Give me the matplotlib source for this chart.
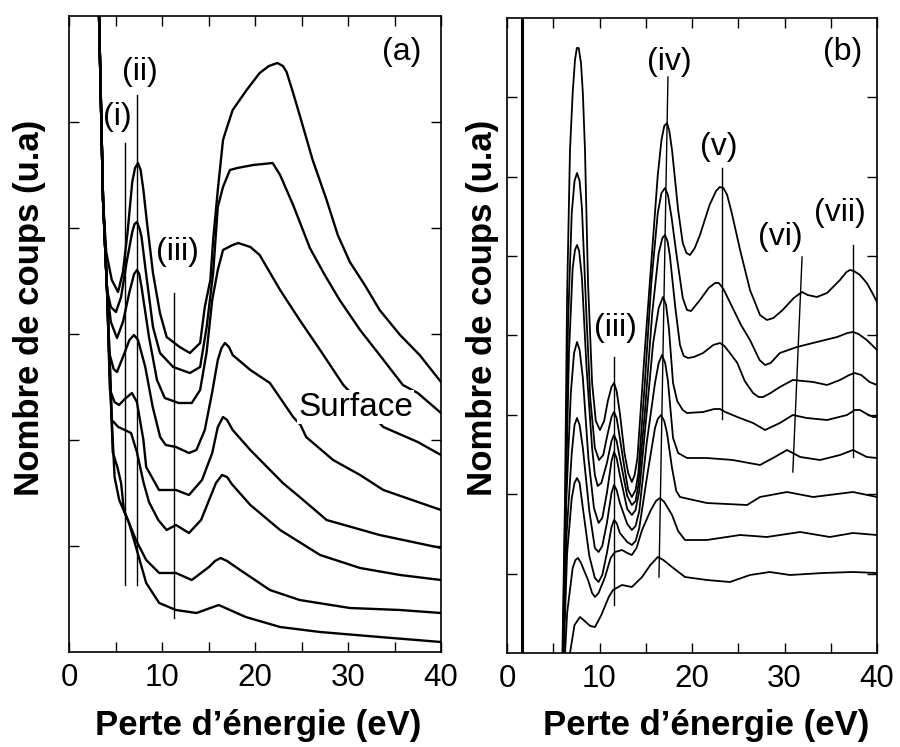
import numpy as np
import matplotlib
matplotlib.use('Agg')
import matplotlib.pyplot as plt

plt.rcParams['font.family'] = ['Liberation Sans', 'DejaVu Sans']

# ---- panel (a): spectra, (energy eV, counts u.a.), top curve first ----
a_curve1 = [(2.9, 720), (3.23, 636), (3.66, 452), (4.0, 400), (4.6, 372), (5.27, 360), (5.8, 380),
            (6.3, 420), (6.8, 470), (7.1, 484), (7.42, 489), (7.7, 482), (8.0, 462), (8.39, 429),
            (9.03, 379), (9.78, 339), (10.5, 315), (11.9, 305), (13.0, 299), (14.1, 309), (14.6, 345),
            (15.2, 372), (15.5, 412), (16.0, 462), (16.56, 512), (17.0, 525), (17.6, 542), (19.1, 562),
            (20.5, 579), (21.5, 586), (22.4, 589), (23.0, 586), (23.4, 580), (24.1, 559), (24.8, 537),
            (26.2, 492), (27.7, 452), (28.9, 417), (30.2, 390), (31.8, 367), (33.4, 342), (35.6, 317),
            (37.7, 297), (40.0, 270)]
a_curve2 = [(2.9, 720), (3.23, 636), (3.66, 452), (4.09, 362), (4.5, 345), (5.05, 340), (5.6, 355),
            (6.2, 390), (6.8, 420), (7.05, 428), (7.31, 430), (7.6, 423), (7.8, 415), (8.28, 379),
            (9.03, 325), (9.78, 299), (11.2, 285), (13.0, 279), (14.1, 285), (14.8, 325), (15.5, 379),
            (16.0, 445), (16.56, 465), (17.3, 482), (18.1, 484), (19.8, 487), (21.9, 489), (22.7, 477),
            (24.1, 447), (25.9, 404), (27.5, 377), (29.1, 352), (31.3, 322), (33.4, 297), (35.9, 267),
            (37.5, 259), (40.0, 239)]
a_curve3 = [(2.9, 720), (3.23, 636), (3.66, 452), (4.09, 362), (4.5, 330), (5.16, 314), (5.8, 330),
            (6.5, 360), (7.0, 378), (7.31, 382), (7.55, 378), (7.8, 365), (8.6, 315), (9.46, 272),
            (10.3, 254), (11.8, 249), (13.2, 249), (14.1, 262), (14.8, 300), (15.4, 352), (16.0, 382),
            (16.56, 402), (17.6, 407), (18.2, 409), (19.5, 405), (20.5, 397), (22.7, 362), (24.8, 332),
            (27.0, 302), (29.5, 267), (33.8, 225), (37.5, 210), (40.0, 197)]
a_curve4 = [(2.9, 720), (3.23, 636), (3.66, 452), (4.09, 362), (4.3, 300), (4.8, 283), (5.16, 280),
            (5.8, 295), (6.5, 312), (6.99, 317), (7.42, 312), (8.2, 285), (9.0, 245), (9.8, 215),
            (10.4, 207), (11.5, 205), (12.9, 199), (13.7, 202), (14.6, 222), (15.4, 260), (16.0, 292),
            (16.4, 304), (16.77, 309), (17.2, 305), (17.6, 297), (19.5, 282), (21.6, 269), (23.0, 250),
            (24.1, 235), (24.9, 227), (25.5, 215), (28.4, 192), (31.3, 177), (33.8, 162), (40.0, 142)]
a_curve5 = [(2.9, 720), (3.23, 636), (3.66, 452), (4.09, 362), (4.4, 262), (4.9, 250), (5.38, 247),
            (6.0, 253), (6.77, 259), (7.3, 250), (8.0, 212), (8.3, 185), (9.68, 162), (11.5, 162),
            (12.9, 157), (14.3, 172), (15.4, 199), (16.0, 225), (16.56, 235), (17.0, 232), (17.6, 222),
            (19.5, 202), (21.3, 185), (23.0, 169), (24.8, 155), (26.7, 140), (27.7, 132), (33.4, 117),
            (40.0, 104)]
a_curve6 = [(2.9, 720), (3.23, 636), (3.66, 452), (4.09, 362), (4.4, 290), (4.6, 232), (5.3, 225),
            (6.0, 222), (6.67, 219), (7.3, 200), (8.0, 170), (8.6, 150), (9.6, 132), (10.5, 122),
            (11.5, 127), (12.9, 119), (14.2, 132), (15.8, 169), (16.45, 177), (17.0, 175), (17.5, 168),
            (19.5, 147), (22.7, 122), (27.0, 97), (31.3, 84), (35.6, 77), (40.0, 72)]
a_curve7 = [(2.9, 720), (3.23, 636), (3.66, 452), (4.09, 362), (4.4, 280), (4.7, 200), (5.2, 185),
            (5.6, 169), (5.9, 142), (7.2, 112), (8.3, 92), (9.7, 79), (11.5, 79), (13.2, 72), (15.05, 85),
            (15.7, 91), (16.3, 94), (17.0, 91), (18.4, 82), (21.6, 62), (24.8, 52), (30.2, 44), (35.6, 42),
            (40.0, 39)]
a_curve8 = [(2.9, 720), (3.23, 636), (3.66, 452), (4.09, 362), (4.4, 270), (4.9, 175), (5.4, 152),
            (6.45, 129), (7.2, 105), (8.3, 69), (9.7, 49), (11.5, 42), (13.7, 39), (16.1, 47), (19.0, 35),
            (22.7, 25), (27.0, 20), (33.4, 15), (40.0, 10)]

# marker lines in (a): (energy, bottom, top)
a_markers = [(6.0, 67, 509), (7.3, 67, 557), (11.3, 34, 359)]
a_marker_labels = ['(i)', '(ii)', '(iii)']
a_label_pos = [(5.2, 535), (7.6, 580), (11.7, 400)]

# ---- panel (b) ----
b_curve1 = [(5.9, -50), (6.27, 153), (6.49, 353), (6.81, 503), (7.1, 560), (7.35, 593), (7.55, 605),
            (7.75, 605), (8.0, 590), (8.2, 560), (8.43, 503), (8.76, 370), (9.2, 270), (9.6, 232),
            (10.05, 223), (10.5, 232), (10.9, 252), (11.3, 266), (11.57, 270), (11.85, 262), (12.2, 240),
            (12.7, 200), (13.1, 180), (13.5, 171), (13.8, 178), (14.1, 195), (14.9, 303), (15.7, 403),
            (16.3, 478), (16.7, 513), (17.0, 527), (17.3, 530), (17.55, 522), (17.84, 503), (18.5, 443),
            (19.0, 410), (19.4, 400), (19.78, 398), (20.3, 405), (20.86, 418), (21.9, 448), (22.6, 462),
            (23.0, 466), (23.4, 465), (23.8, 458), (24.3, 440), (25.2, 403), (26.27, 363), (27.35, 338),
            (28.1, 333), (28.8, 335), (29.8, 343), (31.0, 355), (31.9, 361), (32.5, 358), (33.5, 356),
            (34.6, 360), (36.0, 373), (36.7, 381), (37.08, 383), (37.5, 382), (38.16, 378), (38.9, 370),
            (39.5, 360), (40.0, 351)]
b_curve2 = [(5.95, -50), (6.3, 150), (6.6, 330), (7.0, 440), (7.3, 472), (7.57, 480), (7.85, 472),
            (8.1, 445), (8.6, 335), (9.0, 255), (9.5, 205), (9.95, 193), (10.4, 198), (10.9, 220),
            (11.3, 236), (11.57, 241), (11.85, 235), (12.2, 215), (12.7, 185), (13.1, 163), (13.5, 156),
            (13.9, 163), (14.2, 180), (14.9, 270), (15.6, 370), (16.3, 440), (16.7, 460), (17.08, 465),
            (17.4, 458), (17.8, 435), (18.3, 400), (19.0, 355), (19.46, 343), (19.9, 342), (20.86, 353),
            (21.8, 365), (22.5, 370), (22.9, 370), (23.4, 364), (24.4, 345), (25.3, 328), (26.27, 313),
            (27.3, 293), (27.9, 288), (28.5, 290), (29.5, 300), (31.35, 306), (33.5, 311), (35.7, 316),
            (36.8, 320), (37.4, 321), (38.0, 319), (38.9, 313), (40.0, 303)]
b_curve3 = [(5.95, -50), (6.35, 150), (6.7, 300), (7.1, 385), (7.35, 403), (7.57, 408), (7.8, 402),
            (8.1, 375), (8.6, 285), (9.2, 205), (9.5, 178), (9.8, 167), (10.2, 170), (10.8, 190),
            (11.3, 212), (11.57, 218), (11.85, 212), (12.2, 195), (13.0, 157), (13.5, 148), (13.9, 152),
            (14.2, 168), (14.9, 240), (15.7, 340), (16.4, 400), (16.8, 415), (17.08, 418), (17.35, 412),
            (17.6, 398), (18.2, 345), (18.7, 308), (19.1, 297), (19.57, 295), (20.2, 296), (21.2, 300),
            (22.3, 308), (23.03, 310), (23.5, 307), (24.1, 300), (24.9, 290), (25.7, 272), (26.6, 260),
            (27.2, 256), (27.7, 256), (28.5, 260), (29.5, 266), (30.9, 273), (33.1, 271), (34.6, 268),
            (36.0, 273), (37.0, 278), (37.6, 280), (38.3, 278), (39.2, 271), (40.0, 268)]
b_curve4 = [(5.95, -50), (6.4, 150), (6.9, 260), (7.25, 300), (7.57, 311), (7.85, 303), (8.2, 275),
            (8.8, 195), (9.4, 145), (9.9, 130), (10.3, 135), (10.8, 160), (11.3, 192), (11.57, 201),
            (11.85, 195), (12.2, 178), (13.0, 144), (13.5, 138), (13.9, 143), (14.3, 162), (15.0, 230),
            (15.8, 310), (16.4, 345), (16.86, 356), (17.2, 348), (17.5, 325), (17.95, 270), (18.4, 252),
            (19.0, 243), (19.46, 240), (21.2, 241), (22.4, 244), (23.03, 244), (23.6, 241), (24.9, 236),
            (26.6, 230), (27.9, 223), (29.5, 230), (30.9, 238), (32.4, 235), (34.6, 233), (36.76, 238),
            (37.6, 243), (38.16, 243), (38.9, 239), (39.57, 236), (40.0, 236)]
b_curve5 = [(5.95, -50), (6.45, 120), (7.0, 200), (7.3, 228), (7.57, 235), (7.85, 228), (8.2, 205),
            (8.9, 142), (9.5, 105), (9.9, 101), (10.3, 107), (10.8, 130), (11.3, 160), (11.57, 168),
            (11.85, 163), (12.2, 150), (13.0, 129), (13.5, 123), (13.9, 127), (14.3, 142), (15.1, 210),
            (16.0, 270), (16.4, 290), (16.76, 298), (17.1, 290), (17.4, 272), (17.95, 215), (18.5, 200),
            (19.46, 195), (21.6, 195), (24.4, 193), (27.35, 188), (28.76, 195), (30.27, 203), (31.7, 196),
            (33.84, 193), (36.0, 198), (37.4, 203), (38.9, 196), (40.0, 195)]
b_curve6 = [(5.95, -50), (6.5, 100), (7.0, 155), (7.3, 170), (7.57, 175), (7.85, 170), (8.2, 145),
            (8.9, 97), (9.5, 75), (9.9, 71), (10.3, 78), (10.8, 100), (11.3, 126), (11.57, 133),
            (11.85, 130), (12.2, 120), (13.0, 111), (13.5, 108), (13.9, 112), (14.3, 125), (15.2, 180),
            (16.0, 225), (16.3, 234), (16.65, 238), (17.0, 232), (17.3, 220), (17.84, 185), (18.3, 162),
            (18.7, 156), (21.6, 150), (25.95, 148), (27.35, 156), (30.27, 161), (33.1, 156), (37.4, 161),
            (40.0, 156)]
b_curve7 = [(6.0, -50), (6.5, 40), (7.1, 85), (7.4, 93), (7.68, 95), (8.0, 90), (8.76, 73), (9.2, 60),
            (9.51, 56), (9.9, 60), (10.6, 76), (11.2, 95), (11.68, 101), (12.43, 103), (13.0, 100),
            (13.5, 98), (14.0, 105), (14.6, 123), (15.5, 142), (16.1, 152), (16.54, 155), (17.0, 151),
            (17.84, 138), (18.5, 122), (19.24, 113), (21.6, 113), (25.2, 118), (28.1, 116), (31.7, 121),
            (34.9, 116), (37.4, 120), (40.0, 118)]
b_curve8 = [(6.3, -50), (6.81, 0), (7.3, 28), (7.89, 36), (8.4, 32), (9.0, 27), (9.51, 26), (10.2, 38),
            (11.0, 56), (11.46, 63), (12.43, 68), (13.5, 66), (14.6, 76), (15.5, 88), (16.3, 96),
            (16.9, 93), (17.84, 86), (19.24, 76), (21.6, 73), (24.1, 71), (26.27, 78), (28.4, 81),
            (30.6, 78), (34.16, 80), (37.4, 81), (40.0, 80)]

# marker lines in (b): (energy bottom, count bottom, energy top, count top)
b_markers = [(11.57, 48, 11.57, 296), (16.43, 76, 17.4, 576), (23.24, 234, 23.24, 485),
             (30.9, 181, 31.9, 396), (37.4, 196, 37.4, 408)]
b_marker_labels = ['(iii)', '(iv)', '(v)', '(vi)', '(vii)']
b_label_pos = [(11.7, 325), (17.6, 591), (22.9, 506), (29.5, 416), (36.0, 440)]
b_edge = 1.62

a_curves = [a_curve1, a_curve2, a_curve3, a_curve4, a_curve5, a_curve6, a_curve7, a_curve8]
b_curves = [b_curve1, b_curve2, b_curve3, b_curve4, b_curve5, b_curve6, b_curve7, b_curve8]

fig = plt.figure(figsize=(9, 7.47), dpi=100)
axa = fig.add_axes([69/900, 95/747, 372/900, 636/747])
axb = fig.add_axes([507/900, 94/747, 370/900, 635/747])


def style_axes(ax, ymax, ystep, nticks):
    ax.set_xlim(0, 40)
    ax.set_ylim(0, ymax)
    ax.set_xticks(np.arange(0, 41, 5))
    ax.set_xticklabels([str(v) if v % 10 == 0 else '' for v in range(0, 41, 5)])
    ax.set_yticks([ystep * k for k in range(1, nticks + 1)])
    ax.set_yticklabels([])
    ax.tick_params(direction='in', top=True, right=True, length=7, width=1,
                   labelsize=22.5, pad=8)
    for s in ax.spines.values():
        s.set_linewidth(1.2)


style_axes(axa, 636, 106, 5)
style_axes(axb, 635, 79.4, 7)

for c in a_curves:
    e, y = zip(*c)
    axa.plot(e, y, color='black', lw=1.7, solid_joinstyle='round')

for (e, y0, y1), lab, (lx, ly) in zip(a_markers, a_marker_labels, a_label_pos):
    axa.plot([e, e], [y0, y1], color='black', lw=1)
    axa.text(lx, ly, lab, fontsize=23, ha='center', va='center')

axa.text(35.8, 600, '(a)', fontsize=23, ha='center', va='center')
axa.text(30.8, 245, 'Surface', fontsize=24, ha='center', va='center', zorder=5,
         bbox=dict(facecolor='white', edgecolor='none', pad=1))

for c in b_curves:
    e, y = zip(*c)
    axb.plot(e, y, color='black', lw=1.3, solid_joinstyle='round')

axb.axvline(b_edge, color='black', lw=2.2)
for (e0, y0, e1, y1), lab, (lx, ly) in zip(b_markers, b_marker_labels, b_label_pos):
    axb.plot([e0, e1], [y0, y1], color='black', lw=1)
    axb.text(lx, ly, lab, fontsize=23, ha='center', va='center')
axb.text(36.3, 601, '(b)', fontsize=23, ha='center', va='center')

xlab = 'Perte d\u2019énergie (eV)'
ylab = 'Nombre de coups (u.a)'
fig.text(258/900, 1 - 725/747, xlab, fontsize=25, fontweight='bold', ha='center', va='center')
fig.text(706/900, 1 - 725/747, xlab, fontsize=25, fontweight='bold', ha='center', va='center')
fig.text(30/900, 1 - 308/747, ylab, fontsize=25, fontweight='bold', ha='center', va='center', rotation=90)
fig.text(483/900, 1 - 308/747, ylab, fontsize=25, fontweight='bold', ha='center', va='center', rotation=90)

fig.savefig('out.png', dpi=100)
